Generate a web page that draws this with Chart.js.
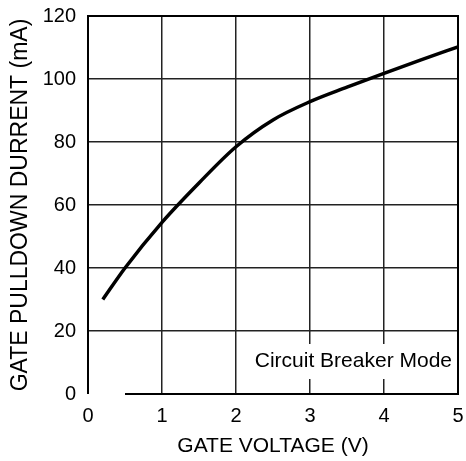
<!DOCTYPE html>
<html>
<head>
<meta charset="utf-8">
<script src="https://cdn.jsdelivr.net/npm/chart.js@4.4.1/dist/chart.umd.min.js"></script>
<style>
  html, body { margin: 0; padding: 0; background: #fff; }
  #wrap { width: 466px; height: 461px; }
</style>
</head>
<body>
<div id="wrap"><canvas id="grafica" width="466" height="461"></canvas></div>
<script>
// datos
const voltaje = [0.2, 0.5, 1, 1.5, 2, 2.5, 3, 3.5, 4, 4.5, 5];
const corriente = [30, 40, 54.5, 67, 78.5, 87, 92.8, 97.4, 101.8, 106.1, 110.2];
const ticksX = [0, 1, 2, 3, 4, 5];
const ticksY = [0, 20, 40, 60, 80, 100, 120];
const tituloX = "GATE VOLTAGE (V)";
const tituloY = "GATE PULLDOWN DURRENT (mA)";
const nota = "Circuit Breaker Mode";
const inicioBorde = 0.5; // el borde inferior empieza aqui en la original

const fuente = "'Liberation Sans', Arial, sans-serif";

const marco = {
  id: "marco",
  beforeDatasetsDraw(chart) {
    const { ctx, chartArea } = chart;
    ctx.save();
    ctx.font = "21px " + fuente;
    const ancho = ctx.measureText(nota).width;
    const xDer = chartArea.right - 6;
    const yMed = chartArea.bottom - 33;
    ctx.fillStyle = "#fff";
    ctx.fillRect(xDer - ancho - 3, yMed - 17, ancho + 6, 35);
    ctx.fillStyle = "#000";
    ctx.textAlign = "right";
    ctx.textBaseline = "middle";
    ctx.fillText(nota, xDer, yMed);
    ctx.restore();
  },
  afterDatasetsDraw(chart) {
    const { ctx, chartArea, scales } = chart;
    ctx.save();
    ctx.strokeStyle = "#000";
    ctx.lineWidth = 2;
    ctx.beginPath();
    ctx.moveTo(chartArea.left, chartArea.bottom);
    ctx.lineTo(chartArea.left, chartArea.top);
    ctx.lineTo(chartArea.right, chartArea.top);
    ctx.lineTo(chartArea.right, chartArea.bottom);
    ctx.lineTo(scales.x.getPixelForValue(inicioBorde), chartArea.bottom);
    ctx.stroke();
    ctx.restore();
  }
};

new Chart(document.getElementById("grafica"), {
  type: "line",
  data: {
    datasets: [{
      data: voltaje.map((v, i) => ({ x: v, y: corriente[i] })),
      borderColor: "#000",
      borderWidth: 3.5,
      pointRadius: 0,
      fill: false,
      cubicInterpolationMode: "monotone"
    }]
  },
  options: {
    responsive: false,
    animation: false,
    devicePixelRatio: 1,
    layout: { padding: { top: 16, right: 8, left: 0, bottom: 0 } },
    plugins: { legend: { display: false }, tooltip: { enabled: false } },
    scales: {
      x: {
        type: "linear",
        min: 0,
        max: 5,
        afterBuildTicks: (scale) => { scale.ticks = ticksX.map(v => ({ value: v })); },
        afterFit: (scale) => {
          scale.height = 67;
          scale.paddingLeft = 0;
          scale.paddingRight = 0;
        },
        border: { display: false },
        grid: { color: "#222", lineWidth: 1.5, drawTicks: false },
        ticks: { color: "#000", padding: 10, font: { size: 20, family: fuente } },
        title: { display: true, text: tituloX, color: "#000", padding: { top: 0, bottom: 2 }, font: { size: 21, family: fuente } }
      },
      y: {
        type: "linear",
        min: 0,
        max: 120,
        afterBuildTicks: (scale) => { scale.ticks = ticksY.map(v => ({ value: v })); },
        afterFit: (scale) => {
          scale.width = 88;
          scale.paddingTop = 0;
          scale.paddingBottom = 0;
        },
        border: { display: false },
        grid: {
          color: (c) => (c.tick && c.tick.value === 0 ? "rgba(0,0,0,0)" : "#222"),
          lineWidth: 1.5,
          drawTicks: false
        },
        ticks: { color: "#000", padding: 12, font: { size: 20, family: fuente } },
        title: { display: true, text: tituloY, color: "#000", padding: { top: 7, bottom: 0 }, font: { size: 23, family: fuente } }
      }
    }
  },
  plugins: [marco]
});
</script>
</body>
</html>
